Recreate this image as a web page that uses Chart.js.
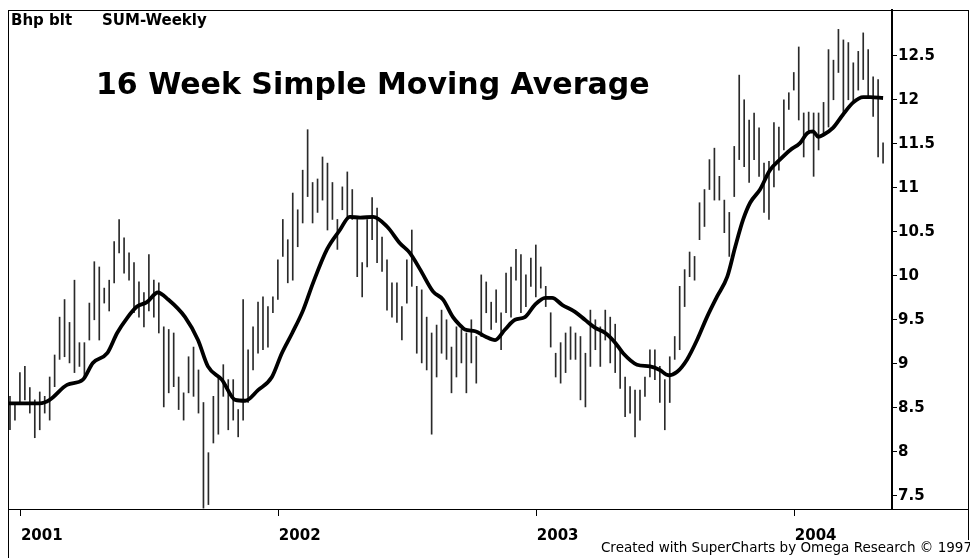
<!DOCTYPE html>
<html>
<head>
<meta charset="utf-8">
<script src="https://cdn.jsdelivr.net/npm/chart.js@4.4.1/dist/chart.umd.min.js"></script>
<style>
  html, body { margin: 0; padding: 0; background: #fff; }
</style>
</head>
<body>
<canvas id="chartBhp" width="970" height="558"></canvas>
<script>
// weekly bars, week 0 = mid Dec 2000
const weeklyHigh = [
  8.63, 8.55, 8.90, 8.97, 8.73, 8.59, 8.68, 8.63, 8.85, 9.10,
  9.53, 9.73, 9.47, 9.95, 9.24, 9.24, 9.69, 10.16, 10.10, 9.86,
  9.95, 10.39, 10.64, 10.43, 10.26, 10.15, 9.93, 9.81, 10.24, 9.95,
  9.92, 9.42, 9.39, 9.35, 8.85, 8.67, 9.08, 9.19, 8.93, 8.56,
  7.99, 8.63, 8.85, 8.99, 8.82, 8.82, 8.48, 9.73, 9.16, 9.42,
  9.70, 9.76, 9.65, 9.76, 10.18, 10.64, 10.41, 10.94, 10.75, 11.20,
  11.66, 11.06, 11.10, 11.35, 11.28, 11.06, 10.64, 11.01, 11.18, 10.98,
  10.64, 10.15, 10.64, 10.89, 10.77, 10.44, 10.18, 9.92, 9.92, 9.65,
  10.18, 10.52, 9.88, 9.84, 9.53, 9.35, 9.44, 9.61, 9.50, 9.19,
  9.42, 9.39, 9.35, 9.50, 9.31, 10.01, 9.93, 9.70, 9.84, 9.58,
  10.03, 10.10, 10.30, 10.24, 10.01, 10.20, 10.35, 10.10, 9.88, 9.58,
  9.12, 9.24, 9.35, 9.42, 9.35, 9.31, 9.12, 9.61, 9.50, 9.42,
  9.61, 9.53, 9.45, 9.14, 8.85, 8.74, 8.70, 8.70, 8.85, 9.16,
  9.16, 8.97, 8.82, 9.08, 9.31, 9.88, 10.07, 10.27, 10.22, 10.83,
  10.98, 11.32, 11.45, 11.13, 10.86, 10.72, 11.47, 12.28, 12.00, 11.77,
  11.85, 11.68, 11.28, 11.30, 11.74, 11.69, 12.00, 12.08, 12.31, 12.60,
  11.85, 11.86, 11.85, 11.85, 11.97, 12.57, 12.45, 12.80, 12.68, 12.65,
  12.42, 12.55, 12.76, 12.57, 12.26, 12.23, 11.51
]
const weeklyLow = [
  8.25, 8.36, 8.56, 8.59, 8.44, 8.16, 8.25, 8.44, 8.36, 8.74,
  9.05, 9.08, 9.01, 8.90, 8.97, 8.85, 9.27, 9.50, 9.27, 9.69,
  9.60, 9.92, 10.26, 10.03, 9.95, 9.58, 9.53, 9.42, 9.60, 9.53,
  9.35, 8.51, 8.67, 8.74, 8.48, 8.36, 8.67, 8.63, 8.44, 7.36,
  7.40, 8.10, 8.20, 8.63, 8.25, 8.36, 8.17, 8.36, 8.56, 8.93,
  9.12, 9.16, 9.19, 9.58, 9.73, 10.22, 9.92, 9.95, 10.33, 10.60,
  10.90, 10.60, 10.72, 10.86, 10.52, 10.64, 10.30, 10.75, 10.67, 10.64,
  9.99, 9.76, 10.10, 10.41, 10.15, 10.05, 9.61, 9.53, 9.47, 9.27,
  9.69, 9.88, 9.12, 9.01, 8.93, 8.20, 8.85, 9.12, 9.05, 8.67,
  8.85, 9.01, 8.67, 9.01, 8.78, 9.31, 9.58, 9.39, 9.47, 9.16,
  9.58, 9.53, 9.95, 9.58, 9.65, 9.88, 9.76, 9.86, 9.65, 9.19,
  8.85, 8.78, 8.90, 9.05, 9.05, 8.59, 8.51, 8.97, 9.16, 8.97,
  9.27, 9.01, 8.90, 8.72, 8.40, 8.44, 8.17, 8.36, 8.63, 8.85,
  8.82, 8.56, 8.25, 8.56, 9.05, 9.16, 9.65, 9.99, 9.95, 10.41,
  10.56, 10.98, 10.86, 10.86, 10.49, 10.22, 10.90, 11.32, 11.24, 11.06,
  11.32, 11.13, 10.72, 10.64, 11.01, 11.20, 11.43, 11.89, 12.11, 11.77,
  11.35, 11.62, 11.13, 11.43, 11.62, 11.69, 12.00, 12.31, 11.85, 12.00,
  11.97, 12.11, 12.23, 12.03, 11.81, 11.35, 11.28
]

// 16 week moving average
const smaWeek = [
  -0.4, 6, 8, 11.5, 14.7, 16.7, 19.6, 21.6, 23.6, 25.6, 27.6,
  29.8, 31.9, 35.3, 37.9, 39.9, 42.7, 45.4, 47.4, 50, 52.8, 54.8, 56.9, 59.1,
  61.1, 63.9, 66.5, 68.5, 70.6, 73.2, 76, 78.6, 80.6, 82.7, 85.3, 87.3, 89.3, 90.7,
  91.7, 93.8, 95.8, 97.8, 99.8, 101.8, 103.8, 105.8, 107.9, 109.3, 111.3, 113.9, 115.9, 117.9, 120, 122,
  123.6, 126.4, 129, 131, 132.7, 134.5, 136.5, 138.5, 140.5, 142.5, 144.6, 146.2, 147.8, 149.2,
  151.2, 153.2, 155.2, 157.3, 159.3, 160.7, 161.9, 162.9, 163.9, 165.9, 167.9, 170, 172, 173.4, 176
]
const smaValue = [
  8.55, 8.55, 8.59, 8.76, 8.82, 9.01, 9.12, 9.35, 9.52, 9.65, 9.70,
  9.81, 9.73, 9.53, 9.27, 8.97, 8.82, 8.59, 8.58, 8.70, 8.85, 9.12, 9.35, 9.61,
  9.92, 10.30, 10.52, 10.67, 10.66, 10.67, 10.56, 10.37, 10.26, 10.07, 9.82, 9.73, 9.53, 9.44,
  9.39, 9.37, 9.31, 9.27, 9.39, 9.50, 9.53, 9.67, 9.75, 9.75, 9.67, 9.59, 9.50, 9.41, 9.35, 9.24,
  9.12, 8.99, 8.97, 8.93, 8.87, 8.91, 9.05, 9.27, 9.53, 9.76, 9.99, 10.33, 10.64, 10.83,
  10.98, 11.20, 11.32, 11.43, 11.51, 11.62, 11.64, 11.58, 11.60, 11.68, 11.83, 11.97, 12.03, 12.03, 12.02
]

const yearWeek = [2.2, 54.2, 106.2, 158.2]
const yearLabel = ['2001', '2002', '2003', '2004']
const priceTicks = [7.5, 8, 8.5, 9, 9.5, 10, 10.5, 11, 11.5, 12, 12.5]

const canvas = document.getElementById('chartBhp')

// frame and texts that SuperCharts puts on the chart
const decor = {
  id: 'decor',
  afterDraw(chart) {
    const c = chart.ctx
    const a = chart.chartArea
    c.save()
    c.strokeStyle = '#000'
    c.lineWidth = 1
    c.beginPath()
    c.moveTo(8.5, a.top)
    c.lineTo(8.5, 558)
    c.moveTo(8, a.top + 0.5)
    c.lineTo(968, a.top + 0.5)
    c.moveTo(8, a.bottom + 0.5)
    c.lineTo(968, a.bottom + 0.5)
    c.moveTo(968.5, a.top)
    c.lineTo(968.5, 540)
    c.stroke()

    c.fillStyle = '#000'
    c.textBaseline = 'alphabetic'
    c.textAlign = 'left'
    c.font = 'bold 15px "DejaVu Sans"'
    c.fillText('Bhp blt', 11, 25)
    c.fillText('SUM-Weekly', 102, 25)

    c.font = 'bold 30px "DejaVu Sans"'
    c.fillText('16 Week Simple Moving Average', 96, 94)

    c.font = '13.5px "DejaVu Sans"'
    c.textAlign = 'right'
    c.fillText('Created with SuperCharts by Omega Research \u00a9 1997', 972, 552)
    c.restore()
  }
}

new Chart(canvas, {
  data: {
    datasets: [{
      type: 'line',
      data: smaWeek.map((w, i) => ({ x: w, y: smaValue[i] })),
      borderColor: '#000',
      borderWidth: 3.8,
      pointRadius: 0,
      cubicInterpolationMode: 'monotone',
      order: 0
    }, {
      type: 'bar',
      data: weeklyHigh.map((h, i) => ({ x: i, y: [weeklyLow[i], h] })),
      backgroundColor: '#2a2a2a',
      barThickness: 1,
      order: 1
    }]
  },
  plugins: [decor],
  options: {
    responsive: false,
    animation: false,
    devicePixelRatio: 1,
    layout: { padding: { left: 8, top: 10, right: 0, bottom: 13 } },
    plugins: {
      legend: { display: false },
      tooltip: { enabled: false }
    },
    scales: {
      x: {
        type: 'linear',
        min: -0.4,
        max: 177.8,
        offset: false,
        border: { display: false },
        grid: { offset: false, drawOnChartArea: false, color: '#000', tickLength: 7 },
        afterBuildTicks: s => { s.ticks = yearWeek.map(v => ({ value: v })) },
        afterFit: s => { s.height = 36 },
        ticks: {
          align: 'start',
          autoSkip: false,
          maxRotation: 0,
          padding: 11,
          color: '#000',
          font: { family: 'DejaVu Sans', size: 15, weight: 'bold' },
          callback: (v, i) => yearLabel[i]
        }
      },
      y: {
        position: 'right',
        min: 7.35,
        max: 13.02,
        border: { display: true, color: '#000', width: 2 },
        grid: { drawOnChartArea: false, color: '#000', tickLength: 5 },
        afterBuildTicks: s => { s.ticks = priceTicks.map(v => ({ value: v })) },
        afterFit: s => { s.width = 78 },
        ticks: {
          padding: 1,
          color: '#000',
          font: { family: 'DejaVu Sans', size: 15, weight: 'bold' },
          callback: v => String(v)
        }
      }
    }
  }
})
</script>
</body>
</html>
